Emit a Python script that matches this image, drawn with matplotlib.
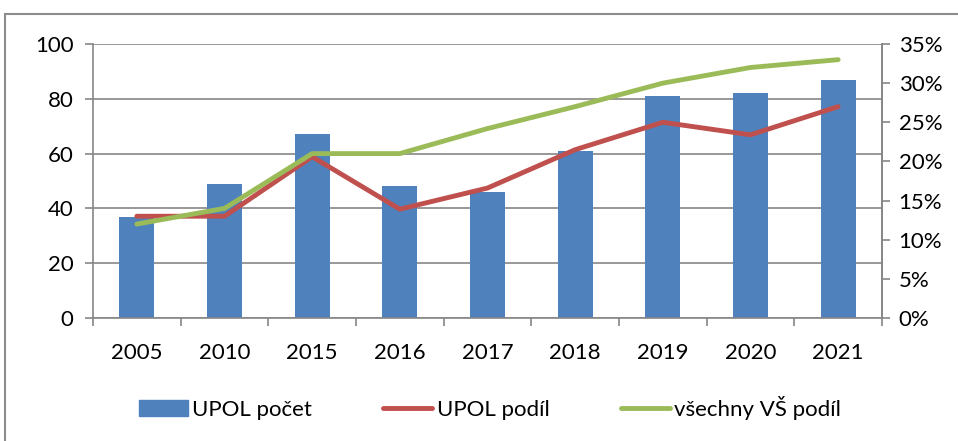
import matplotlib
matplotlib.use("Agg")
import matplotlib.pyplot as plt
from matplotlib.patches import Rectangle
from matplotlib.lines import Line2D
from matplotlib.ticker import FuncFormatter, MultipleLocator

years = ["2005", "2010", "2015", "2016", "2017", "2018", "2019", "2020", "2021"]
upol_pocet = [37, 49, 67, 48, 46, 61, 81, 82, 87]
upol_podil = [13.0, 13.0, 20.6, 13.9, 16.6, 21.5, 25.0, 23.4, 27.0]
vsechny_podil = [12.0, 14.0, 21.0, 21.0, 24.2, 27.0, 30.0, 32.0, 33.0]

plt.rcParams['font.family'] = ['Lato', 'DejaVu Sans']

W, H = 958, 441
fig = plt.figure(figsize=(W / 100, H / 100), dpi=100)
ax = fig.add_axes([93 / W, 1 - 318 / H, (882 - 93) / W, (318 - 44) / H])
ax2 = ax.twinx()

x = list(range(len(years)))
blue = "#4F81BD"
red = "#C0504D"
green = "#9BBB59"
grid = "#868686"
fs = 16

ax.bar(x, upol_pocet, width=0.4, color=blue, zorder=2)
ax.set_xlim(-0.5, len(years) - 0.5)
ax.set_ylim(0, 100)
ax.yaxis.set_major_locator(MultipleLocator(20))
ax.set_xticks(x)
ax.set_xticklabels(years)
ax.set_xticks([i - 0.5 for i in range(len(years) + 1)], minor=True)
ax.tick_params(axis='x', which='major', length=0, pad=18, labelsize=fs)
ax.tick_params(axis='x', which='minor', length=6, color=grid, width=1.2)
ax.tick_params(axis='y', length=6, color=grid, width=1.2, labelsize=fs, pad=8)
ax.grid(axis='y', color=grid, linewidth=1.2, zorder=0)
ax.set_axisbelow(True)
ax.spines['top'].set_visible(False)
for s in ['left', 'bottom', 'right']:
    ax.spines[s].set_color(grid)
    ax.spines[s].set_linewidth(1.2)

ax2.plot(x, upol_podil, color=red, linewidth=3.5, solid_capstyle='round', zorder=3)
ax2.plot(x, vsechny_podil, color=green, linewidth=3.5, solid_capstyle='round', zorder=4)
ax2.set_ylim(0, 35)
ax2.yaxis.set_major_locator(MultipleLocator(5))
ax2.yaxis.set_major_formatter(FuncFormatter(lambda v, p: f"{int(round(v))}%"))
ax2.tick_params(axis='y', length=6, color=grid, width=1.2, labelsize=fs, pad=6)
for s in ['top', 'left', 'bottom']:
    ax2.spines[s].set_visible(False)
ax2.spines['right'].set_color(grid)
ax2.spines['right'].set_linewidth(1.2)

# outer frame
fig.patches.append(Rectangle((5 / W, -0.1), 1.2, 1 - 14 / H + 0.1, transform=fig.transFigure,
                             fill=False, edgecolor="#8c8c8c", linewidth=1.5))

handles = [Rectangle((0, 0), 1, 1, color=blue),
           Line2D([0], [0], color=red, linewidth=3.5, solid_capstyle='round'),
           Line2D([0], [0], color=green, linewidth=3.5, solid_capstyle='round')]
labels = ["UPOL počet", "UPOL podíl", "všechny VŠ podíl"]
fig.legend(handles, labels, loc='center', bbox_to_anchor=(490 / W, 1 - 408 / H), ncol=3,
           frameon=False, fontsize=fs, handlelength=2.2, handletextpad=0.2, columnspacing=3.2)

fig.savefig("out.png", dpi=100)
